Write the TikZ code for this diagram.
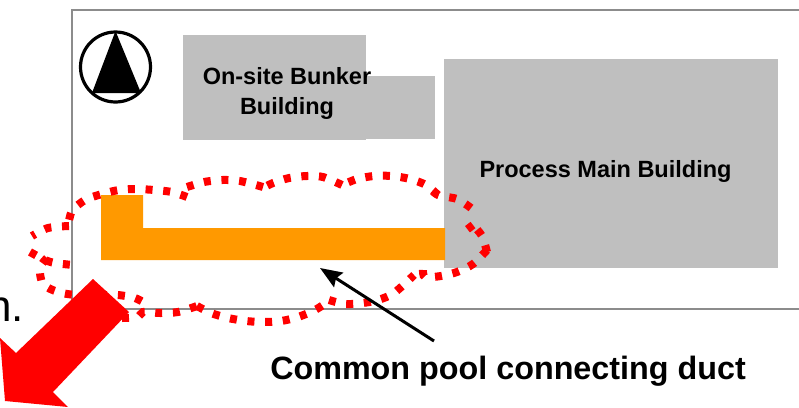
\documentclass[tikz,border=0pt]{standalone}
\usepackage{fontspec}
\setmainfont{Liberation Sans}
\usetikzlibrary{arrows.meta}
\definecolor{framegray}{HTML}{8C8C8C}
\definecolor{buildgray}{HTML}{BFBFBF}
\definecolor{ductorange}{HTML}{FF9900}
\tikzstyle{frameline}=[
	-,
	draw=framegray,
	line width=1.4pt
]
\tikzstyle{building}=[
	anchor=north west,
	inner sep=0pt,
	fill=buildgray
]
\tikzstyle{lbl}=[
	inner sep=0pt,
	font=\bfseries\fontsize{23.5}{27}\selectfont,
	align=center
]
\tikzstyle{cloudline}=[
	draw=red,
	line width=8pt,
	dash pattern=on 7pt off 10.7pt
]
\begin{document}
\begin{tikzpicture}[x=1pt, y=-1pt]
\useasboundingbox (0,0) rectangle (799,407);

\draw[frameline] (799,10) -- (72,10) -- (72,309) -- (799,309);

\node[draw=black, line width=3.2pt, circle, inner sep=0pt, minimum size=70pt] (north) at (115.5,67) {};
\fill[black] (115.5,31) -- (141,93) -- (92,93) -- cycle;

\node[building, minimum width=183pt, minimum height=105pt] (bunker) at (183,35) {};
\node[building, minimum width=69pt, minimum height=63pt] (annex) at (366,76) {};
\node[building, minimum width=334pt, minimum height=209pt] (main) at (444,59) {};

\node[lbl] (bunkerlbl) at (287,93) {On-site Bunker\\[3pt]Building};
\node[lbl] (mainlbl) at (605.5,171) {Process Main Building};

\fill[ductorange] (101,195) -- (143,195) -- (143,228) -- (445,228) -- (445,260) -- (101,260) -- cycle;

% cloud, one piece per lobe
\draw[cloudline] plot[smooth] coordinates {(187,197) (172,192) (154,190) (137,189) (119,190) (102,194) (85,200) (72,211) (68,226)};
\draw[cloudline] plot[smooth] coordinates {(69,226) (48,228) (32,236)};
\draw[cloudline] plot[smooth] coordinates {(30,252) (45,260) (55,263) (73,265)};
\draw[cloudline] plot[smooth] coordinates {(47,258) (40,268) (43,284) (58,292) (77,295) (108,295) (118,295) (135,298) (150,306)};
\draw[cloudline] plot[smooth] coordinates {(122,318) (138,317) (143,312) (160,313) (178,312) (197,306)};
\draw[cloudline] plot[smooth] coordinates {(197,306) (211,313) (228,318) (246,321) (263,322) (281,321) (298,317) (315,310) (329,301)};
\draw[cloudline] plot[smooth] coordinates {(329,300) (345,304) (363,303) (378,300) (394,293) (414,275)};
\draw[cloudline] plot[smooth] coordinates {(423,270) (425,277) (441,276) (457,272) (473,264) (487,250)};
\draw[cloudline] plot[smooth] coordinates {(487,252) (482,236) (473,225)};
\draw[cloudline] plot[smooth] coordinates {(473,225) (460,235)};
\draw[cloudline] plot[smooth] coordinates {(471,208) (457,199) (438,195) (426,185)};
\draw[cloudline] plot[smooth] coordinates {(438,195) (426,185) (410,179) (392,176) (374,176) (357,179) (342,185)};
\draw[cloudline] plot[smooth] coordinates {(342,185) (323,177) (307,176) (289,178) (273,183) (263,188)};
\draw[cloudline] plot[smooth] coordinates {(263,187) (240,181) (222,180) (204,182) (187,187)};

\fill[red] (93,279) -- (129,312) -- (53,392) -- (68,407) -- (5,401) -- (0,338) -- (16,353) -- cycle;

\node[inner sep=0pt, anchor=base east, font=\fontsize{44}{50}\selectfont] (cut) at (24,321) {n.};

\node[lbl, font=\bfseries\fontsize{32.3}{38}\selectfont] (ductlbl) at (508,371) {Common pool connecting duct};
\coordinate (ductstart) at (434,341);
\coordinate (ducttip) at (320,268);
\draw[-{Stealth[length=22pt, width=17pt, inset=3pt]}, black, line width=3pt] (ductstart) -- (ducttip);

\end{tikzpicture}
\end{document}
